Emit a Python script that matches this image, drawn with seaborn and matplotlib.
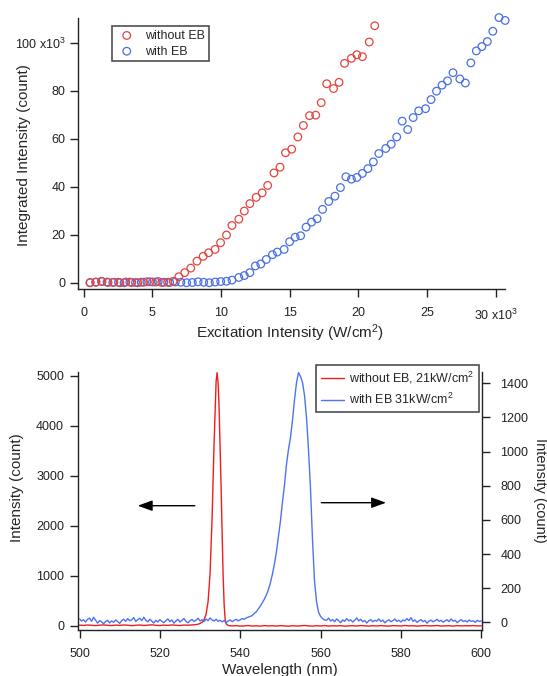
import numpy as np
import matplotlib
matplotlib.use("Agg")
import matplotlib.pyplot as plt
import seaborn as sns

# --- top panel: integrated intensity vs excitation intensity (x10^3) ---
red_x = [0.46, 0.9, 1.33, 1.77, 2.2, 2.64, 3.07, 3.5, 3.94, 4.37, 4.81, 5.24, 5.68, 6.11, 6.52,
         6.93, 7.36, 7.8, 8.25, 8.7, 9.1, 9.57, 9.97, 10.4, 10.8, 11.3, 11.7, 12.1, 12.56, 13.0,
         13.4, 13.86, 14.3, 14.7, 15.15, 15.6, 16.0, 16.45, 16.9, 17.3, 17.7, 18.2, 18.6, 19.0,
         19.5, 19.9, 20.3, 20.8, 21.2]
red_y = [0.0, 0.3, 0.5, 0.1, 0.2, 0.0, 0.3, 0.1, 0.0, 0.2, 0.4, 0.3, 0.1, 0.2, 0.6,
         2.5, 4.2, 6.1, 9.0, 11.0, 12.5, 13.9, 16.7, 19.9, 23.9, 26.5, 29.9, 33.0, 35.6, 37.5,
         40.6, 45.8, 48.2, 54.2, 55.7, 60.8, 65.6, 69.7, 69.9, 75.1, 83.0, 81.0, 83.6, 91.5,
         93.6, 95.1, 94.3, 100.4, 107.2]

blue_x = [0.46, 0.87, 1.29, 1.7, 2.12, 2.53, 2.94, 3.36, 3.77, 4.19, 4.6, 5.01, 5.43, 5.84,
          6.26, 6.67, 7.08, 7.5, 7.91, 8.33, 8.74, 9.15, 9.57, 9.98,
          10.4, 10.8, 11.3, 11.7, 12.1, 12.5, 12.9, 13.3, 13.75, 14.1, 14.6, 15.0, 15.4, 15.8,
          16.2, 16.6, 17.0, 17.4, 17.85, 18.3, 18.7, 19.1, 19.5, 19.9, 20.3, 20.7, 21.1, 21.5,
          22.0, 22.4, 22.8, 23.2, 23.6, 24.0, 24.4, 24.9, 25.3, 25.7, 26.1, 26.5, 26.9, 27.4,
          27.8, 28.2, 28.6, 29.0, 29.4, 29.8, 30.25, 30.7]
blue_y = [0.1, 0.2, 0.6, 0.3, 0.1, 0.2, 0.0, 0.3, 0.1, 0.2, 0.4, 0.3, 0.5, 0.2,
          0.1, 0.3, 0.2, 0.0, 0.1, 0.4, 0.2, 0.0, 0.3, 0.5,
          0.6, 1.1, 2.2, 3.0, 4.2, 7.0, 7.8, 9.7, 11.7, 12.8, 13.9, 17.1, 19.0, 19.6,
          23.2, 25.3, 26.7, 30.6, 33.9, 36.1, 39.7, 44.2, 43.2, 43.9, 45.6, 47.6, 50.4, 53.9,
          56.0, 57.8, 60.8, 67.4, 63.9, 68.9, 71.7, 72.6, 76.4, 79.9, 82.4, 84.2, 87.6, 85.0,
          83.3, 91.7, 96.7, 98.5, 100.6, 104.9, 110.6, 109.4]

top_xticks = [0, 5, 10, 15, 20, 25, 30]
top_xticklabels = ["0", "5", "10", "15", "20", "25", "30 x10$^3$"]
top_yticks = [0, 20, 40, 60, 80, 100]
top_yticklabels = ["0", "20", "40", "60", "80", "100 x10$^3$"]

# --- bottom panel: PL spectra ---
red_wl = (list(range(500, 530))
          + [529.5, 530, 530.5, 531, 531.5, 532, 532.5, 533, 533.5, 534, 534.25, 534.5,
             534.75, 535, 535.25, 535.5, 535.75, 536, 536.25, 536.5, 537]
          + list(range(538, 601)))
red_counts = ([12, 6, 14, 9, 3, 11, 16, 8, 4, 13, 7, 15, 10, 2, 9, 14, 6, 11, 18, 8,
               5, 12, 7, 15, 9, 4, 13, 10, 16, 22]
              + [30, 45, 70, 120, 230, 480, 1050, 2150, 3650, 4880, 5060, 4850,
                 4350, 3550, 2750, 1850, 1000, 420, 130, 40, 5]
              + [-4, 2, -8, -3, 4, -6, -1, -9, 3, -5, 0, -7, 2, -4, -10, 1, -6, -2, 5, -3,
                 -8, 0, -5, 3, -7, -1, -4, 2, -9, -3, 1, -6, 4, -2, -8, 0, -5, 3, -4, -7,
                 2, -1, -6, 5, -3, 0, -8, -2, 3, -5, -1, 4, -6, -3, 1, -7, 2, -4, 0, -2,
                 3, -5, -1])

blue_wl = np.arange(500, 600.5, 0.5)  # detector grid, 0.5 nm
blue_counts = ([20, 8, 15, 2, 18, 25, 6, 30, 12, -5,
                10, 3, -8, 5, 12, -3, 8, 0, 14, 4,
                -6, 10, 18, 6, 22, 9, 15, 28, 5, 16,
                24, 10, 30, 12, 3, 18, 7, -4, 12, 2,
                16, 6, -2, 10, 20, 4, 14, -5, 8, 18,
                2, 12, 22, 6, -3, 10, 17, 5, 12, 24,
                8, 15, 4, 19, 10, 26, 14, 8, 18, 6,
                12, 3, 10, -2, 8, 14, 4, 12, 18, 9]
               + [15, 22, 18, 26, 30, 35, 40, 52, 62, 78,
                  95, 115, 135, 160, 190, 230, 280, 340, 410, 500,
                  590, 700, 800, 920, 1010, 1080, 1180, 1300, 1400, 1462,
                  1440, 1405, 1330, 1200, 1010, 780, 480, 240, 120, 60,
                  35, 22, 14]
               + [12, 25, 8, 16, 4, 20, 10, -2, 14, 6,
                  22, 9, 15, 2, 12, 26, 8, 18, 4, 11,
                  -4, 9, 16, 3, 12, 7, 20, 5, 13, -3,
                  8, 15, 4, 10, 19, 6, 12, 2, 14, 8,
                  22, 10, 28, 6, 14, 0, 9, 16, 4, 11,
                  -5, 8, 13, 3, 10, 18, 6, 12, 1, 9,
                  15, 4, 20, 7, 12, -2, 8, 16, 5, 10,
                  2, 14, 6, 9, 0, 12, 5, 8])
assert len(blue_counts) == len(blue_wl)
assert len(red_counts) == len(red_wl)

RED_MK = "#e5443f"
BLUE_MK = "#4a6fe3"
RED_LN = "#f21c1c"
BLUE_LN = "#4b74f2"

sns.set_theme(style="ticks")
plt.rcParams["font.family"] = ["Liberation Sans", "DejaVu Sans"]
plt.rcParams["mathtext.default"] = "regular"
plt.rcParams["axes.linewidth"] = 1.0
plt.rcParams["axes.edgecolor"] = "#222222"

fig = plt.figure(figsize=(5.47, 6.76), dpi=100)

# ---------------- top panel ----------------
ax1 = fig.add_axes([0.1435, 0.572, 0.7795, 0.402])
sns.scatterplot(x=blue_x, y=blue_y, ax=ax1, marker="o", s=30, facecolor="none",
                edgecolor=BLUE_MK, linewidth=0.9, label="with EB", legend=False,
                clip_on=False, zorder=3)
sns.scatterplot(x=red_x, y=red_y, ax=ax1, marker="o", s=30, facecolor="none",
                edgecolor=RED_MK, linewidth=0.9, label="without EB", legend=False,
                clip_on=False, zorder=3)
ax1.set_xlim(-0.38, 30.68)
ax1.set_ylim(-2.75, 110.6)
ax1.set_xticks(top_xticks)
ax1.set_xticklabels(top_xticklabels)
ax1.set_yticks(top_yticks)
ax1.set_yticklabels(top_yticklabels)
ax1.tick_params(axis="both", direction="out", length=6, width=1.0, labelsize=9,
                colors="#222222")
ax1.tick_params(axis="x", pad=7)
ax1.tick_params(axis="y", pad=3.3)
sns.despine(ax=ax1)
ax1.set_xlabel("Excitation Intensity (W/cm$^2$)", fontsize=11)
ax1.set_ylabel("Integrated Intensity (count)", fontsize=11)
ax1.xaxis.set_label_coords(0.496, -0.122)
ax1.yaxis.set_label_coords(-0.112, 0.494)

h, l = ax1.get_legend_handles_labels()
order = [l.index("without EB"), l.index("with EB")]
leg1 = ax1.legend([h[i] for i in order], [l[i] for i in order], loc="upper left",
                  bbox_to_anchor=(0.078, 0.969), borderaxespad=0, fontsize=9,
                  frameon=True, fancybox=False, edgecolor="#222222",
                  handlelength=1.8, handletextpad=0.6, borderpad=0.3,
                  labelspacing=0.3)
leg1.get_frame().set_linewidth(1.2)

# ---------------- bottom panel ----------------
ax2 = fig.add_axes([0.1417, 0.068, 0.7403, 0.3813])
ax3 = ax2.twinx()
sns.lineplot(x=red_wl, y=red_counts, ax=ax2, color=RED_LN, linewidth=1.0,
             estimator=None, sort=False, label="without EB, 21kW/cm$^2$", legend=False)
sns.lineplot(x=blue_wl, y=blue_counts, ax=ax3, color=BLUE_LN, linewidth=1.0,
             estimator=None, sort=False, label="with EB 31kW/cm$^2$", legend=False)

ax2.set_xlim(499.5, 600.3)
ax2.set_ylim(-86, 5068)
ax3.set_ylim(-45, 1464)
ax2.set_xticks([500, 520, 540, 560, 580, 600])
ax2.set_yticks([0, 1000, 2000, 3000, 4000, 5000])
ax3.set_yticks([0, 200, 400, 600, 800, 1000, 1200, 1400])
for a in (ax2, ax3):
    a.tick_params(axis="both", direction="out", length=6, width=1.0, labelsize=9,
                  colors="#222222")
ax2.tick_params(axis="x", pad=7)
ax2.tick_params(axis="y", pad=3.6)
ax3.tick_params(axis="y", pad=7)
ax2.spines["top"].set_visible(False)
ax2.spines["right"].set_visible(False)
ax3.spines["top"].set_visible(False)
ax3.spines["left"].set_visible(False)
ax3.spines["bottom"].set_visible(False)

ax2.set_xlabel("Wavelength (nm)", fontsize=11)
ax2.set_ylabel("Intensity (count)", fontsize=11)
ax3.set_ylabel("Intensity (count)", fontsize=10.5, rotation=270)
ax2.xaxis.set_label_coords(0.5, -0.128)
ax2.yaxis.set_label_coords(-0.131, 0.551)
ax3.yaxis.label.set_va("center")
ax3.yaxis.label.set_ha("center")
ax3.yaxis.set_label_coords(1.142, 0.543)

# arrows pointing to the axis each curve belongs to
ax2.annotate("", xy=(514.5, 2400), xytext=(528.7, 2400),
             arrowprops=dict(arrowstyle="-|>,head_length=0.55,head_width=0.2",
                             color="black", lw=1.0, mutation_scale=16,
                             shrinkA=0, shrinkB=0))
ax2.annotate("", xy=(576.3, 2460), xytext=(560.2, 2460),
             arrowprops=dict(arrowstyle="-|>,head_length=0.55,head_width=0.2",
                             color="black", lw=1.0, mutation_scale=16,
                             shrinkA=0, shrinkB=0))

h2, l2 = ax2.get_legend_handles_labels()
h3, l3 = ax3.get_legend_handles_labels()
leg2 = ax3.legend(h2 + h3, l2 + l3, loc="upper left", bbox_to_anchor=(0.589, 1.028),
                  borderaxespad=0, fontsize=9, frameon=True, fancybox=False,
                  edgecolor="#222222", handlelength=1.8, handletextpad=0.45,
                  borderpad=0.4, labelspacing=0.45)
leg2.get_frame().set_linewidth(1.2)

plt.savefig("out.png", dpi=100)
